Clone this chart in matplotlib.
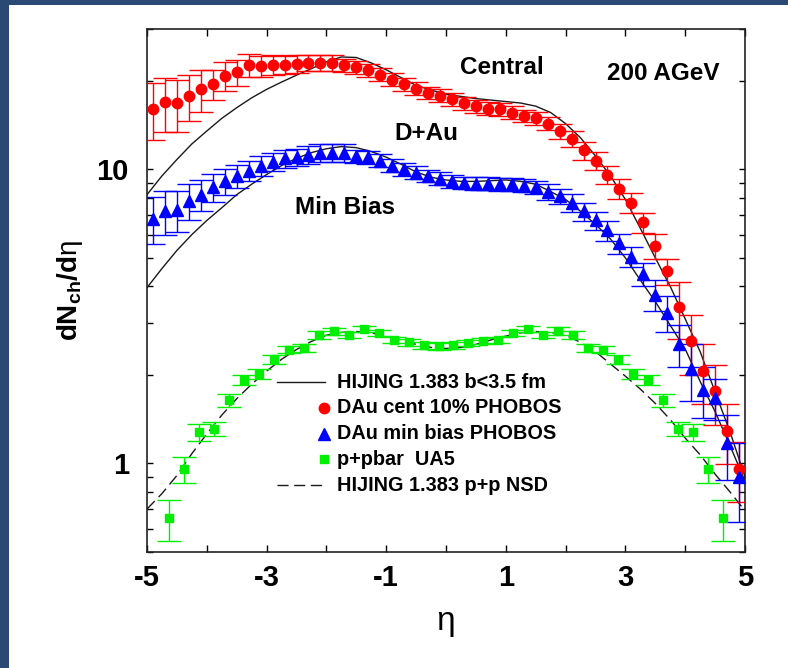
import numpy as np
import matplotlib.pyplot as plt
from matplotlib.patches import Rectangle
from matplotlib.ticker import FixedLocator, LogLocator, NullFormatter, FixedFormatter

plt.rcParams['font.family'] = ['Liberation Sans', 'DejaVu Sans']
plt.rcParams['axes.unicode_minus'] = False
plt.rcParams['mathtext.fontset'] = 'custom'
plt.rcParams['mathtext.rm'] = 'Liberation Sans:bold'
plt.rcParams['mathtext.bf'] = 'Liberation Sans:bold'
plt.rcParams['mathtext.it'] = 'Liberation Sans:bold'
plt.rcParams['mathtext.sf'] = 'Liberation Sans'

# PHOBOS d+Au points (eta bins of 0.2)
eta_dau = np.linspace(-4.9, 4.9, 50)
dau_central = [16.1, 16.9, 16.8, 17.8, 18.7, 19.5, 20.8, 21.4, 22.6, 22.4,
               22.7, 22.7, 22.8, 23.0, 23.0, 23.0, 22.6, 22.2, 21.7, 21.0,
               20.2, 19.5, 18.8, 18.2, 17.8, 17.3, 16.8, 16.4, 16.1, 16.0,
               15.6, 15.2, 14.9, 14.3, 13.5, 12.7, 11.6, 10.7, 9.6, 8.6,
               7.7, 6.6, 5.5, 4.5, 3.4, 2.6, 2.07, 1.76, 1.29, 0.96]
dau_central_err = [0.22, 0.21, 0.20, 0.18, 0.16, 0.12, 0.11, 0.10, 0.09, 0.08,
                   0.08, 0.07, 0.07, 0.06, 0.06, 0.06, 0.05, 0.05, 0.05, 0.05,
                   0.05, 0.05, 0.05, 0.05, 0.05, 0.05, 0.05, 0.05, 0.05, 0.05,
                   0.05, 0.05, 0.05, 0.05, 0.06, 0.06, 0.07, 0.07, 0.07, 0.08,
                   0.08, 0.08, 0.10, 0.10, 0.22, 0.23, 0.23, 0.23, 0.23, 0.23]
dau_minbias = [6.8, 7.2, 7.3, 7.8, 8.2, 8.7, 9.1, 9.5, 9.9, 10.3,
               10.6, 10.9, 11.0, 11.2, 11.4, 11.4, 11.4, 11.1, 11.0, 10.7,
               10.3, 10.0, 9.75, 9.5, 9.3, 9.1, 9.0, 8.95, 8.95, 8.9,
               8.9, 8.8, 8.7, 8.4, 8.1, 7.7, 7.2, 6.7, 6.2, 5.6,
               5.05, 4.4, 3.75, 3.25, 2.54, 2.09, 1.78, 1.67, 1.17, 0.9]
dau_minbias_err = [0.18, 0.17, 0.16, 0.14, 0.12, 0.11, 0.10, 0.09, 0.08, 0.08,
                   0.07, 0.07, 0.07, 0.07, 0.07, 0.07, 0.07, 0.05, 0.05, 0.05,
                   0.05, 0.05, 0.05, 0.05, 0.05, 0.05, 0.05, 0.05, 0.05, 0.05,
                   0.05, 0.05, 0.05, 0.06, 0.06, 0.07, 0.07, 0.07, 0.08, 0.08,
                   0.08, 0.09, 0.12, 0.14, 0.16, 0.22, 0.20, 0.16, 0.25, 0.30]

# UA5 p+pbar (eta bins of 0.25)
eta_ua5 = np.linspace(-4.625, 4.625, 38)
ua5 = [0.65, 0.954, 1.28, 1.31, 1.64, 1.92, 2.01, 2.26, 2.44, 2.47,
       2.73, 2.81, 2.73, 2.86, 2.78, 2.63, 2.58, 2.52, 2.50,
       2.52, 2.57, 2.61, 2.63, 2.78, 2.87, 2.74, 2.82, 2.74, 2.47,
       2.44, 2.25, 2.01, 1.92, 1.64, 1.31, 1.28, 0.954, 0.65]
ua5_err = [0.16, 0.10, 0.065, 0.055, 0.05, 0.04, 0.04, 0.035, 0.03, 0.03,
           0.03, 0.03, 0.025, 0.025, 0.025, 0.025, 0.025, 0.025, 0.025,
           0.025, 0.025, 0.025, 0.025, 0.025, 0.025, 0.025, 0.03, 0.03, 0.03,
           0.03, 0.035, 0.04, 0.04, 0.05, 0.055, 0.065, 0.10, 0.16]

# HIJING 1.383 curves
eta_hij = np.linspace(-5, 5, 41)
hij_central = [8.2, 9.5, 10.8, 12.2, 13.5, 14.9, 16.2, 17.5, 18.7, 19.8,
               20.9, 22.0, 23.2, 24.1, 24.0, 23.0, 21.8, 20.5, 19.3, 18.6,
               18.0, 17.7, 17.4, 17.2, 17.0, 16.8, 16.4, 15.6, 14.3, 12.8,
               11.1, 9.5, 7.9, 6.3, 5.0, 4.0, 3.1, 2.4, 1.75, 1.28, 0.9]
hij_minbias = [3.96, 4.6, 5.3, 6.0, 6.7, 7.4, 8.2, 8.9, 9.6, 10.3,
               10.9, 11.4, 11.75, 11.95, 11.85, 11.5, 11.0, 10.4, 9.8, 9.4,
               9.2, 9.1, 9.1, 9.15, 9.2, 9.1, 8.9, 8.4, 7.9, 7.2,
               6.5, 5.8, 5.0, 4.2, 3.55, 2.95, 2.45, 1.9, 1.5, 1.15, 0.87]
hij_pp = [0.70, 0.79, 0.91, 1.08, 1.26, 1.46, 1.66, 1.86, 2.06, 2.26,
          2.44, 2.60, 2.73, 2.79, 2.81, 2.78, 2.71, 2.63, 2.54, 2.48,
          2.46, 2.48, 2.54, 2.63, 2.71, 2.78, 2.81, 2.79, 2.73, 2.58,
          2.40, 2.18, 1.98, 1.79, 1.60, 1.41, 1.22, 1.07, 0.92, 0.80, 0.69]

legend_labels = ['HIJING 1.383 b<3.5 fm', 'DAu cent 10% PHOBOS',
                 'DAu min bias PHOBOS', 'p+pbar  UA5', 'HIJING 1.383 p+p NSD']

RED, BLUE, GREEN = '#ff0000', '#0000ff', '#00ee00'

fig = plt.figure(figsize=(7.88, 6.68), dpi=100, facecolor='#2a4a75')
panel = Rectangle((9 / 788, 0), 1, 1 - 5 / 668, transform=fig.transFigure,
                  facecolor='white', edgecolor='none', zorder=-10)
fig.add_artist(panel)
ax = fig.add_axes([147 / 788, 116 / 668, 598 / 788, 523 / 668])
ax.set_zorder(1)

ax.plot(eta_hij, hij_central, color='#1a1a1a', lw=1.0, zorder=3)
ax.plot(eta_hij, hij_minbias, color='#1a1a1a', lw=1.0, zorder=3)
ax.plot(eta_hij, hij_pp, color='#1a1a1a', lw=1.0, dashes=(8, 4), zorder=3)

ebkw = dict(capsize=8.5, elinewidth=1.0, capthick=1.0, linestyle='none', zorder=4)
y = np.array(ua5)
ax.errorbar(eta_ua5, y, yerr=y * np.array(ua5_err), marker='s', ms=6,
            color=GREEN, ecolor=GREEN, **ebkw)
y = np.array(dau_central)
ax.errorbar(eta_dau, y, yerr=y * np.array(dau_central_err), marker='o', ms=7.5,
            color=RED, ecolor=RED, **ebkw)
y = np.array(dau_minbias)
ax.errorbar(eta_dau, y, yerr=y * np.array(dau_minbias_err), marker='^', ms=8,
            color=BLUE, ecolor=BLUE, **ebkw)

ax.set_yscale('log')
ax.set_xlim(-5, 5)
ax.set_ylim(0.5, 30)

ax.xaxis.set_major_locator(FixedLocator(np.arange(-5, 6, 1)))
ax.xaxis.set_major_formatter(FixedFormatter(['-5', '', '-3', '', '-1', '', '1', '', '3', '', '5']))
ax.yaxis.set_major_locator(FixedLocator([1, 10]))
ax.yaxis.set_major_formatter(FixedFormatter(['1', '10']))
ax.yaxis.set_minor_locator(LogLocator(base=10, subs=np.arange(2, 10)))
ax.yaxis.set_minor_formatter(NullFormatter())
ax.tick_params(axis='x', which='both', direction='in', top=True, length=5, width=1,
               pad=9, labelsize=21)
ax.tick_params(axis='y', which='both', direction='in', right=True, length=4, width=1,
               pad=13, labelsize=21)
for lab in ax.get_xticklabels() + ax.get_yticklabels():
    lab.set_fontweight('bold')
for sp in ax.spines.values():
    sp.set_linewidth(1.2)
    sp.set_color('#222222')

ax.set_xlabel('η', fontsize=24, labelpad=10)
ax.set_ylabel(r'dN$_{\mathrm{ch}}$/d$\mathsf{η}$', fontsize=20, fontweight='bold', labelpad=8)

txt = dict(transform=ax.transAxes, ha='center', va='center', fontsize=17.5, fontweight='bold')
ax.text((502 - 147) / 598, 1 - (67 - 29) / 523, 'Central', **txt)
ax.text((663 - 147) / 598, 1 - (73 - 29) / 523, '200 AGeV', **txt)
ax.text((426 - 147) / 598, 1 - (133 - 29) / 523, 'D+Au', **txt)
ax.text((345 - 147) / 598, 1 - (207 - 29) / 523, 'Min Bias', **txt)

# hand-drawn legend, markers at the right end of the key
styles = [dict(kind='line', ls='-'), dict(kind='mark', marker='o', color=RED, ms=7.5),
          dict(kind='mark', marker='^', color=BLUE, ms=8),
          dict(kind='mark', marker='s', color=GREEN, ms=6), dict(kind='line', ls='--')]
x0, x1, xt = (277 - 147) / 598, (325 - 147) / 598, (337 - 147) / 598
for i, (lab, st) in enumerate(zip(legend_labels, styles)):
    yy = 1 - (382 + 25.8 * i - 29) / 523
    if st['kind'] == 'line':
        kw = dict(dashes=(8, 4)) if st['ls'] == '--' else {}
        ax.plot([x0, x1], [yy, yy], color='#1a1a1a', lw=1.0, transform=ax.transAxes, **kw)
    else:
        ax.plot([x1 - 0.002], [yy], marker=st['marker'], color=st['color'], ms=st['ms'],
                linestyle='none', transform=ax.transAxes)
    ax.text(xt, yy, lab, transform=ax.transAxes, ha='left', va='center',
            fontsize=14.3, fontweight='bold')

fig.savefig('out.png', dpi=100, facecolor=fig.get_facecolor())
